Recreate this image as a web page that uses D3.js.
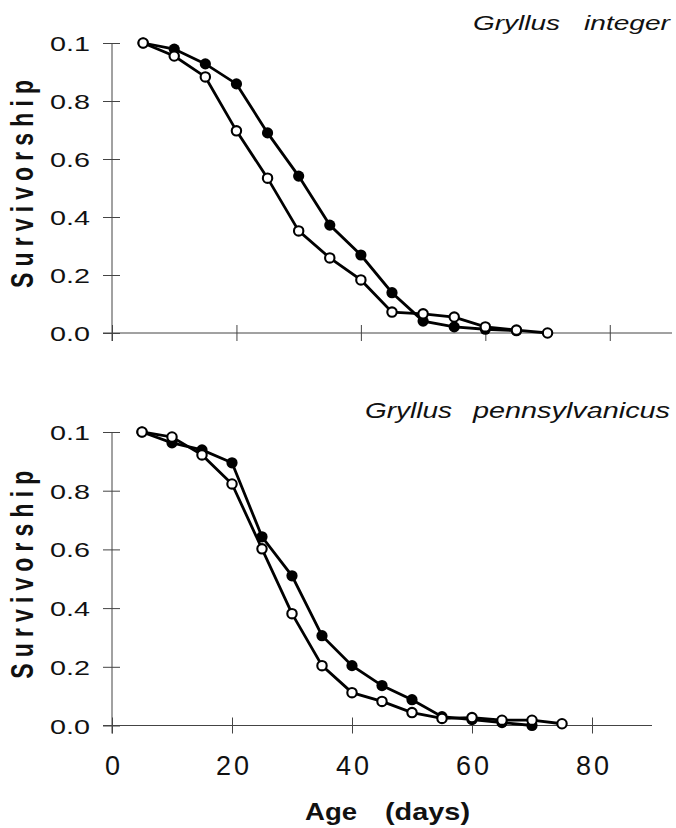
<!DOCTYPE html>
<html>
<head>
<meta charset="utf-8">
<script src="https://cdn.jsdelivr.net/npm/d3@7"></script>
<style>
  body { margin: 0; background: #fff; }
  svg { display: block; font-family: "Liberation Sans", Arial, Helvetica, sans-serif; }
</style>
</head>
<body>
<div id="chart"></div>
<script>
// survivorship vs age, two cricket species (filled / open symbols)
const integerAges = [5, 10, 15, 20, 25, 30, 35, 40, 45, 50, 55, 60, 65, 70]
const integerFilled = [1.0, 0.979, 0.928, 0.859, 0.69, 0.541, 0.372, 0.269, 0.139, 0.041, 0.021, 0.013, 0.008]
const integerOpen = [1.0, 0.955, 0.883, 0.697, 0.534, 0.352, 0.259, 0.183, 0.072, 0.066, 0.055, 0.021, 0.01, 0.0]

const pennAges = [5, 10, 15, 20, 25, 30, 35, 40, 45, 50, 55, 60, 65, 70, 75]
const pennFilled = [1.0, 0.963, 0.939, 0.895, 0.643, 0.51, 0.306, 0.204, 0.136, 0.088, 0.03, 0.02, 0.01, 0.0]
const pennOpen = [1.0, 0.983, 0.922, 0.823, 0.602, 0.381, 0.204, 0.112, 0.082, 0.044, 0.024, 0.027, 0.018, 0.018, 0.006]

const yTicks = [0, 0.2, 0.4, 0.6, 0.8, 1.0]
const yTickLabels = ['0.0', '0.2', '0.4', '0.6', '0.8', '0.1']
const xTicks = [0, 20, 40, 60, 80]
const xTickLabels = ['0', '20', '40', '60', '80']

const panels = [
  {
    words: [['Gryllus', 473, 87], ['integer', 584, 86]], titleY: 30, titleSize: 21,
    ages: integerAges, filled: integerFilled, open: integerOpen,
    xRange: [112, 672], yRange: [333, 43], showX: false
  },
  {
    words: [['Gryllus', 365, 87], ['pennsylvanicus', 473, 197]], titleY: 418, titleSize: 22,
    ages: pennAges, filled: pennFilled, open: pennOpen,
    xRange: [112, 652], yRange: [725.5, 432], showX: true
  }
]

const svg = d3.select('#chart')
  .append('svg')
  .attr('width', 676)
  .attr('height', 828)

svg.append('rect').attr('width', 676).attr('height', 828).attr('fill', '#fff')

function drawPanel(p) {
  const x = d3.scaleLinear().domain([0, 90]).range(p.xRange)
  const y = d3.scaleLinear().domain([0, 1]).range(p.yRange)
  const g = svg.append('g')

  // Y axis
  const yAxis = g.append('g')
    .attr('transform', 'translate(' + x(0) + ',0)')
    .call(d3.axisLeft(y)
      .tickValues(yTicks)
      .tickFormat((d, i) => yTickLabels[i])
      .tickSize(9)
      .tickSizeOuter(0)
      .tickPadding(13))
  yAxis.select('.domain').remove()
  yAxis.selectAll('.tick line').attr('x1', 8).attr('stroke', '#444')
  yAxis.selectAll('.tick text')
    .attr('font-size', 21)
    .attr('fill', '#111')
    .attr('dy', '0.36em')
    .attr('textLength', 40)
    .attr('lengthAdjust', 'spacingAndGlyphs')
  g.append('line')
    .attr('x1', x(0)).attr('x2', x(0))
    .attr('y1', y(1)).attr('y2', y(0) + 8)
    .attr('stroke', '#444')

  // X axis
  const xAxis = g.append('g')
    .attr('transform', 'translate(0,' + y(0) + ')')
    .call(d3.axisBottom(x)
      .tickValues(xTicks)
      .tickFormat((d, i) => p.showX ? xTickLabels[i] : '')
      .tickSize(8)
      .tickSizeOuter(0))
  xAxis.select('.domain').remove()
  xAxis.selectAll('.tick line').attr('y1', -8).attr('stroke', '#444')
  xAxis.selectAll('.tick text')
    .attr('font-size', 27)
    .attr('fill', '#111')
    .attr('y', 49)
    .attr('dy', 0)
    .attr('dx', 1.5)
    .attr('letter-spacing', 3)
  g.append('line')
    .attr('x1', x(0) - 9).attr('x2', x(90))
    .attr('y1', y(0)).attr('y2', y(0))
    .attr('stroke', '#444')

  // series
  const filledPts = d3.zip(p.ages, p.filled)
  const openPts = d3.zip(p.ages, p.open)
  const line = d3.line().x(d => x(d[0])).y(d => y(d[1]))

  g.append('path').datum(filledPts)
    .attr('fill', 'none').attr('stroke', '#000').attr('stroke-width', 2.8)
    .attr('d', line)
  g.append('path').datum(openPts)
    .attr('fill', 'none').attr('stroke', '#000').attr('stroke-width', 2.8)
    .attr('d', line)

  g.selectAll('.filled').data(filledPts).join('circle')
    .attr('class', 'filled')
    .attr('cx', d => x(d[0])).attr('cy', d => y(d[1]))
    .attr('r', 5.6).attr('fill', '#000')
  g.selectAll('.open').data(openPts).join('circle')
    .attr('class', 'open')
    .attr('cx', d => x(d[0])).attr('cy', d => y(d[1]))
    .attr('r', 4.7).attr('fill', '#fff').attr('stroke', '#000').attr('stroke-width', 2.1)

  // species name
  const title = g.append('text')
    .attr('y', p.titleY)
    .attr('font-size', p.titleSize)
    .attr('font-style', 'italic')
    .attr('fill', '#111')
  p.words.forEach(w => {
    title.append('tspan')
      .attr('x', w[1])
      .attr('textLength', w[2])
      .attr('lengthAdjust', 'spacingAndGlyphs')
      .text(w[0])
  })

  // y label
  const midY = (p.yRange[0] + p.yRange[1]) / 2 - 4
  g.append('text')
    .attr('transform', 'translate(33,' + midY + ') rotate(-90) scale(1,1.35)')
    .attr('text-anchor', 'middle')
    .attr('font-size', 23)
    .attr('font-weight', 'bold')
    .attr('fill', '#111')
    .attr('textLength', 208)
    .attr('lengthAdjust', 'spacing')
    .text('Survivorship')
}

panels.forEach(drawPanel)

// x label
const xLabel = svg.append('text')
  .attr('y', 820)
  .attr('font-size', 24)
  .attr('font-weight', 'bold')
  .attr('fill', '#111')
xLabel.append('tspan').attr('x', 305).attr('textLength', 52)
  .attr('lengthAdjust', 'spacingAndGlyphs').text('Age')
xLabel.append('tspan').attr('x', 385).attr('textLength', 85)
  .attr('lengthAdjust', 'spacingAndGlyphs').text('(days)')
</script>
</body>
</html>
